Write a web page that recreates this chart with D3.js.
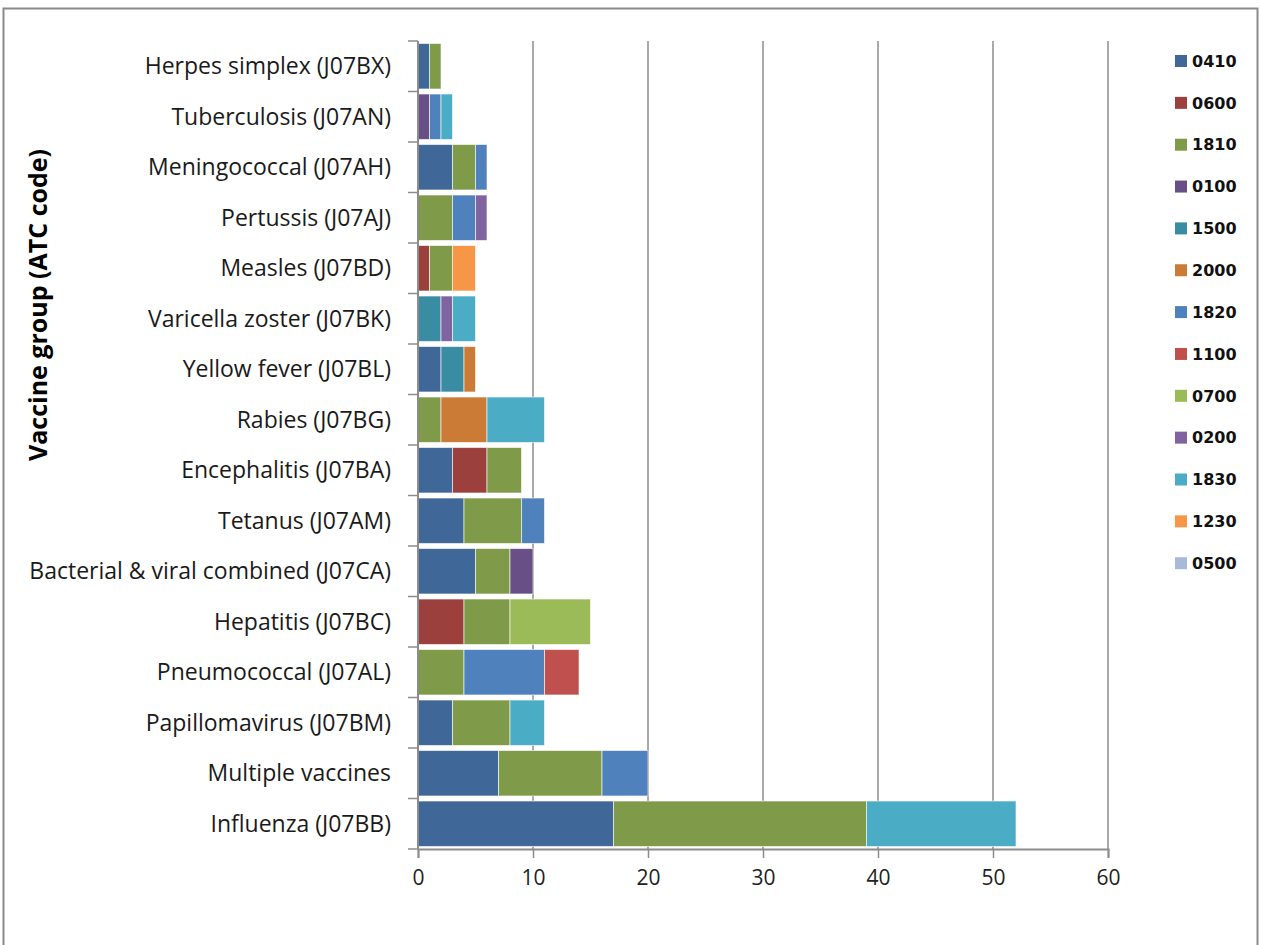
<!DOCTYPE html>
<html>
<head>
<meta charset="utf-8">
<script src="https://cdn.jsdelivr.net/npm/d3@7"></script>
<style>
  html, body { margin: 0; padding: 0; background: #fff; }
  svg { display: block; }
</style>
</head>
<body>
<svg id="chart" width="1261" height="945"></svg>
<script>
// Vaccine groups, top to bottom
const categories = [
  "Herpes simplex (J07BX)",
  "Tuberculosis (J07AN)",
  "Meningococcal (J07AH)",
  "Pertussis (J07AJ)",
  "Measles (J07BD)",
  "Varicella zoster (J07BK)",
  "Yellow fever (J07BL)",
  "Rabies (J07BG)",
  "Encephalitis (J07BA)",
  "Tetanus (J07AM)",
  "Bacterial & viral combined (J07CA)",
  "Hepatitis (J07BC)",
  "Pneumococcal (J07AL)",
  "Papillomavirus (J07BM)",
  "Multiple vaccines",
  "Influenza (J07BB)"
];

// Series codes in stacking / legend order
const seriesCodes = ["0410", "0600", "1810", "0100", "1500", "2000", "1820", "1100", "0700", "0200", "1830", "1230", "0500"];

// Counts per series, one value per category (same order as categories)
const s0410 = [1, 0, 3, 0, 0, 0, 2, 0, 3, 4, 5, 0, 0, 3, 7, 17];
const s0600 = [0, 0, 0, 0, 1, 0, 0, 0, 3, 0, 0, 4, 0, 0, 0, 0];
const s1810 = [1, 0, 2, 3, 2, 0, 0, 2, 3, 5, 3, 4, 4, 5, 9, 22];
const s0100 = [0, 1, 0, 0, 0, 0, 0, 0, 0, 0, 2, 0, 0, 0, 0, 0];
const s1500 = [0, 0, 0, 0, 0, 2, 2, 0, 0, 0, 0, 0, 0, 0, 0, 0];
const s2000 = [0, 0, 0, 0, 0, 0, 1, 4, 0, 0, 0, 0, 0, 0, 0, 0];
const s1820 = [0, 1, 1, 2, 0, 0, 0, 0, 0, 2, 0, 0, 7, 0, 4, 0];
const s1100 = [0, 0, 0, 0, 0, 0, 0, 0, 0, 0, 0, 0, 3, 0, 0, 0];
const s0700 = [0, 0, 0, 0, 0, 0, 0, 0, 0, 0, 0, 7, 0, 0, 0, 0];
const s0200 = [0, 0, 0, 1, 0, 1, 0, 0, 0, 0, 0, 0, 0, 0, 0, 0];
const s1830 = [0, 1, 0, 0, 0, 2, 0, 5, 0, 0, 0, 0, 0, 3, 0, 13];
const s1230 = [0, 0, 0, 0, 2, 0, 0, 0, 0, 0, 0, 0, 0, 0, 0, 0];
const s0500 = [0, 0, 0, 0, 0, 0, 0, 0, 0, 0, 0, 0, 0, 0, 0, 0];

const xTicks = [0, 10, 20, 30, 40, 50, 60];

const seriesValues = [s0410, s0600, s1810, s0100, s1500, s2000, s1820, s1100, s0700, s0200, s1830, s1230, s0500];
const seriesColors = ["#3f6898", "#9c403d", "#7f9a48", "#684f86", "#3a8ca3", "#cc7b37", "#4f81bd", "#c0504d", "#9bbb59", "#8064a2", "#4bacc6", "#f79646", "#a8b9d9"];

// Table for d3.stack
const table = categories.map((c, i) => {
  const row = { category: c };
  seriesCodes.forEach((code, k) => { row[code] = seriesValues[k][i]; });
  return row;
});
const stacked = d3.stack().keys(seriesCodes)(table);

const svg = d3.select("#chart");

// Outer frame
svg.append("rect")
  .attr("x", 3.5).attr("y", 8.5)
  .attr("width", 1254).attr("height", 960)
  .attr("fill", "#fff")
  .attr("stroke", "#8a8a8a")
  .attr("stroke-width", 2);

const plotLeft = 418, plotRight = 1108, plotTop = 41, plotBottom = 849;

const x = d3.scaleLinear().domain([0, 60]).range([plotLeft, plotRight]);
const y = d3.scaleBand().domain(categories).range([plotTop, plotBottom]).paddingInner(0.1).paddingOuter(0.05);

// Vertical gridlines
svg.append("g")
  .selectAll("line")
  .data(xTicks.filter(t => t > 0))
  .join("line")
  .attr("x1", d => x(d)).attr("x2", d => x(d))
  .attr("y1", plotTop).attr("y2", plotBottom)
  .attr("stroke", "#8c8c8c")
  .attr("stroke-width", 1.5);

// Stacked bars
svg.append("g")
  .selectAll("g")
  .data(stacked)
  .join("g")
  .attr("fill", (d, i) => seriesColors[i])
  .selectAll("rect")
  .data(d => d.filter(s => s[1] - s[0] > 0))
  .join("rect")
  .attr("x", d => x(d[0]))
  .attr("y", d => y(d.data.category))
  .attr("width", d => x(d[1]) - x(d[0]))
  .attr("height", y.bandwidth())
  .attr("stroke", "rgba(255,255,255,0.6)")
  .attr("stroke-width", 1);

// X axis
const xAxis = svg.append("g")
  .attr("transform", `translate(0,${plotBottom})`)
  .call(d3.axisBottom(x).tickValues(xTicks).tickSize(9).tickPadding(12).tickFormat(d3.format("d")));
xAxis.select(".domain").attr("stroke", "#8c8c8c").attr("stroke-width", 2);
xAxis.selectAll(".tick line").attr("stroke", "#8c8c8c").attr("stroke-width", 1.5);
xAxis.selectAll("text")
  .attr("fill", "#222")
  .style("font-family", "'Open Sans', sans-serif")
  .style("font-size", "21px");

// Y axis line and band boundary ticks
svg.append("line")
  .attr("x1", plotLeft).attr("x2", plotLeft)
  .attr("y1", plotTop).attr("y2", plotBottom)
  .attr("stroke", "#8c8c8c").attr("stroke-width", 2);

const step = (plotBottom - plotTop) / categories.length;
svg.append("g")
  .selectAll("line")
  .data(d3.range(categories.length + 1))
  .join("line")
  .attr("x1", plotLeft - 10).attr("x2", plotLeft)
  .attr("y1", i => plotTop + i * step).attr("y2", i => plotTop + i * step)
  .attr("stroke", "#8c8c8c").attr("stroke-width", 1.5);

// Category labels
svg.append("g")
  .selectAll("text")
  .data(categories)
  .join("text")
  .attr("x", 391)
  .attr("y", d => y(d) + y.bandwidth() / 2)
  .attr("dy", "0.35em")
  .attr("text-anchor", "end")
  .attr("fill", "#1a1a1a")
  .style("font-family", "'Open Sans', sans-serif")
  .style("font-size", "23px")
  .text(d => d);

// Y axis title
svg.append("text")
  .attr("transform", "translate(47,305) rotate(-90)")
  .attr("text-anchor", "middle")
  .attr("fill", "#000")
  .style("font-family", "'Open Sans', sans-serif")
  .style("font-weight", "bold")
  .style("font-size", "25px")
  .text("Vaccine group (ATC code)");

// Legend
const legend = svg.append("g")
  .selectAll("g")
  .data(seriesCodes)
  .join("g")
  .attr("transform", (d, i) => `translate(1175,${61 + i * 41.85})`);
legend.append("rect")
  .attr("x", 0).attr("y", -6)
  .attr("width", 12).attr("height", 12)
  .attr("fill", (d, i) => seriesColors[i]);
legend.append("text")
  .attr("x", 17).attr("y", 0)
  .attr("dy", "0.36em")
  .attr("fill", "#111")
  .style("font-family", "'DejaVu Sans', sans-serif")
  .style("font-weight", "bold")
  .style("font-size", "16px")
  .text(d => d);
</script>
</body>
</html>
